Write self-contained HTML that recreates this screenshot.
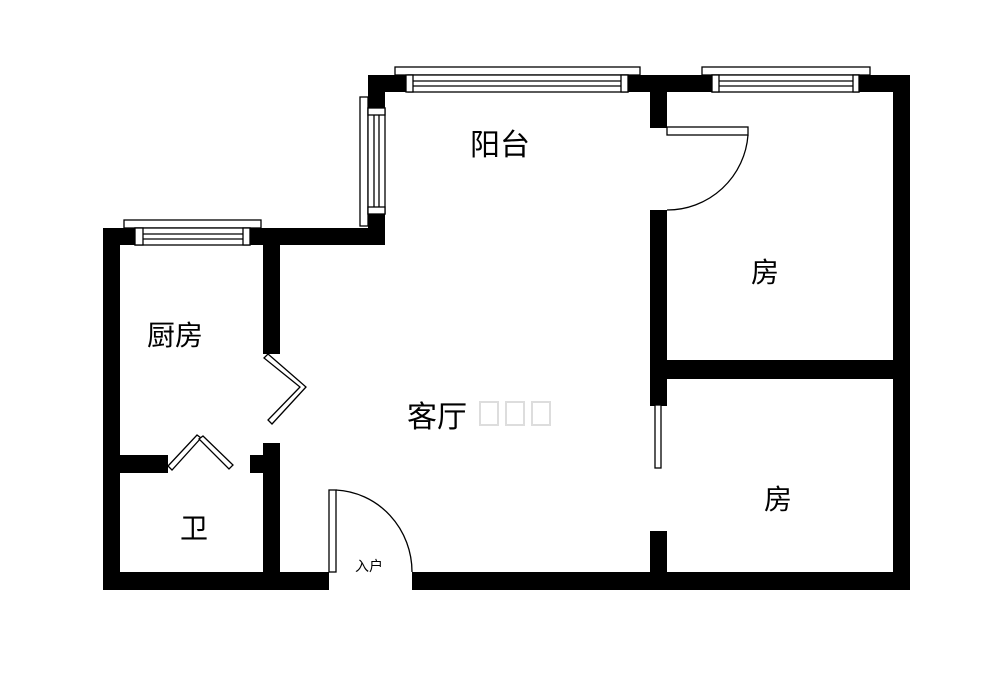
<!DOCTYPE html>
<html><head><meta charset="utf-8"><style>
html,body{margin:0;padding:0;background:#fff;}
svg{display:block}
text{font-family:"Liberation Sans","Noto Sans CJK SC",sans-serif;fill:#000}
</style></head><body>
<svg width="1000" height="677" viewBox="0 0 1000 677" xmlns="http://www.w3.org/2000/svg">
<rect width="1000" height="677" fill="#fff"/>
<g fill="#000">
<rect x="103" y="228" width="17" height="362"/>
<rect x="103" y="572" width="226" height="18"/>
<rect x="412" y="572" width="498" height="18"/>
<rect x="893" y="75" width="17" height="515"/>
<rect x="368" y="75" width="542" height="17"/>
<rect x="368" y="75" width="17" height="170"/>
<rect x="103" y="228" width="282" height="17"/>
<rect x="263" y="228" width="17" height="126"/>
<rect x="263" y="443" width="17" height="147"/>
<rect x="120" y="455" width="48" height="18"/>
<rect x="250" y="455" width="14" height="18"/>
<rect x="650" y="75" width="17" height="53"/>
<rect x="650" y="210" width="17" height="196"/>
<rect x="667" y="360" width="226" height="19"/>
<rect x="650" y="531" width="17" height="59"/>
</g>
<g fill="#fff" stroke="#000" stroke-width="1.3">
<rect x="395" y="67" width="245" height="8"/>
<rect x="408" y="75" width="220" height="17"/>
<line x1="413" y1="81" x2="621" y2="81"/><line x1="413" y1="86" x2="621" y2="86"/>
<rect x="406" y="75" width="7" height="17"/><rect x="621" y="75" width="7" height="17"/>
<rect x="702" y="67" width="168" height="8"/>
<rect x="712" y="75" width="147" height="17"/>
<line x1="719" y1="81" x2="853" y2="81"/><line x1="719" y1="86" x2="853" y2="86"/>
<rect x="712" y="75" width="7" height="17"/><rect x="853" y="75" width="6" height="17"/>
<rect x="360" y="97" width="8" height="129"/>
<rect x="368" y="108" width="17" height="106"/>
<line x1="374" y1="115" x2="374" y2="207"/><line x1="379" y1="115" x2="379" y2="207"/>
<rect x="368" y="108" width="17" height="7"/><rect x="368" y="207" width="17" height="7"/>
<rect x="124" y="220" width="137" height="8"/>
<rect x="135" y="228" width="115" height="17"/>
<line x1="143" y1="234" x2="243" y2="234"/><line x1="143" y1="239" x2="243" y2="239"/>
<rect x="135" y="228" width="8" height="17"/><rect x="243" y="228" width="7" height="17"/>
<rect x="667" y="127" width="81" height="8"/>
<rect x="655" y="405" width="6" height="63"/>
<rect x="329" y="490" width="7" height="82"/>
</g>
<g fill="none" stroke="#000" stroke-width="1.3">
<path d="M748 135 A81 81 0 0 1 667 210"/>
<path d="M336 490 A80 82 0 0 1 412 572"/>
<path d="M268 354 L306 387 L272 424 L268 420 L300 387 L264 358 Z" fill="#fff"/>
<path d="M168 466 L197 435 L201 438 L172 470 Z" fill="#fff"/>
<path d="M203 436 L233 465 L229 469 L199 439 Z" fill="#fff"/>
</g>
<text x="470" y="155" font-size="30">阳台</text>
<text x="751" y="282" font-size="28">房</text>
<text x="147" y="345" font-size="28">厨房</text>
<text x="407" y="427" font-size="30">客厅</text>
<g fill="none" stroke="#ddd" stroke-width="2">
<rect x="480" y="402" width="18" height="23"/><rect x="506" y="402" width="18" height="23"/><rect x="532" y="402" width="18" height="23"/>
</g>
<text x="764" y="509" font-size="28">房</text>
<text x="180" y="538" font-size="28">卫</text>
<text x="355" y="571" font-size="14">入户</text>
</svg>
</body></html>
